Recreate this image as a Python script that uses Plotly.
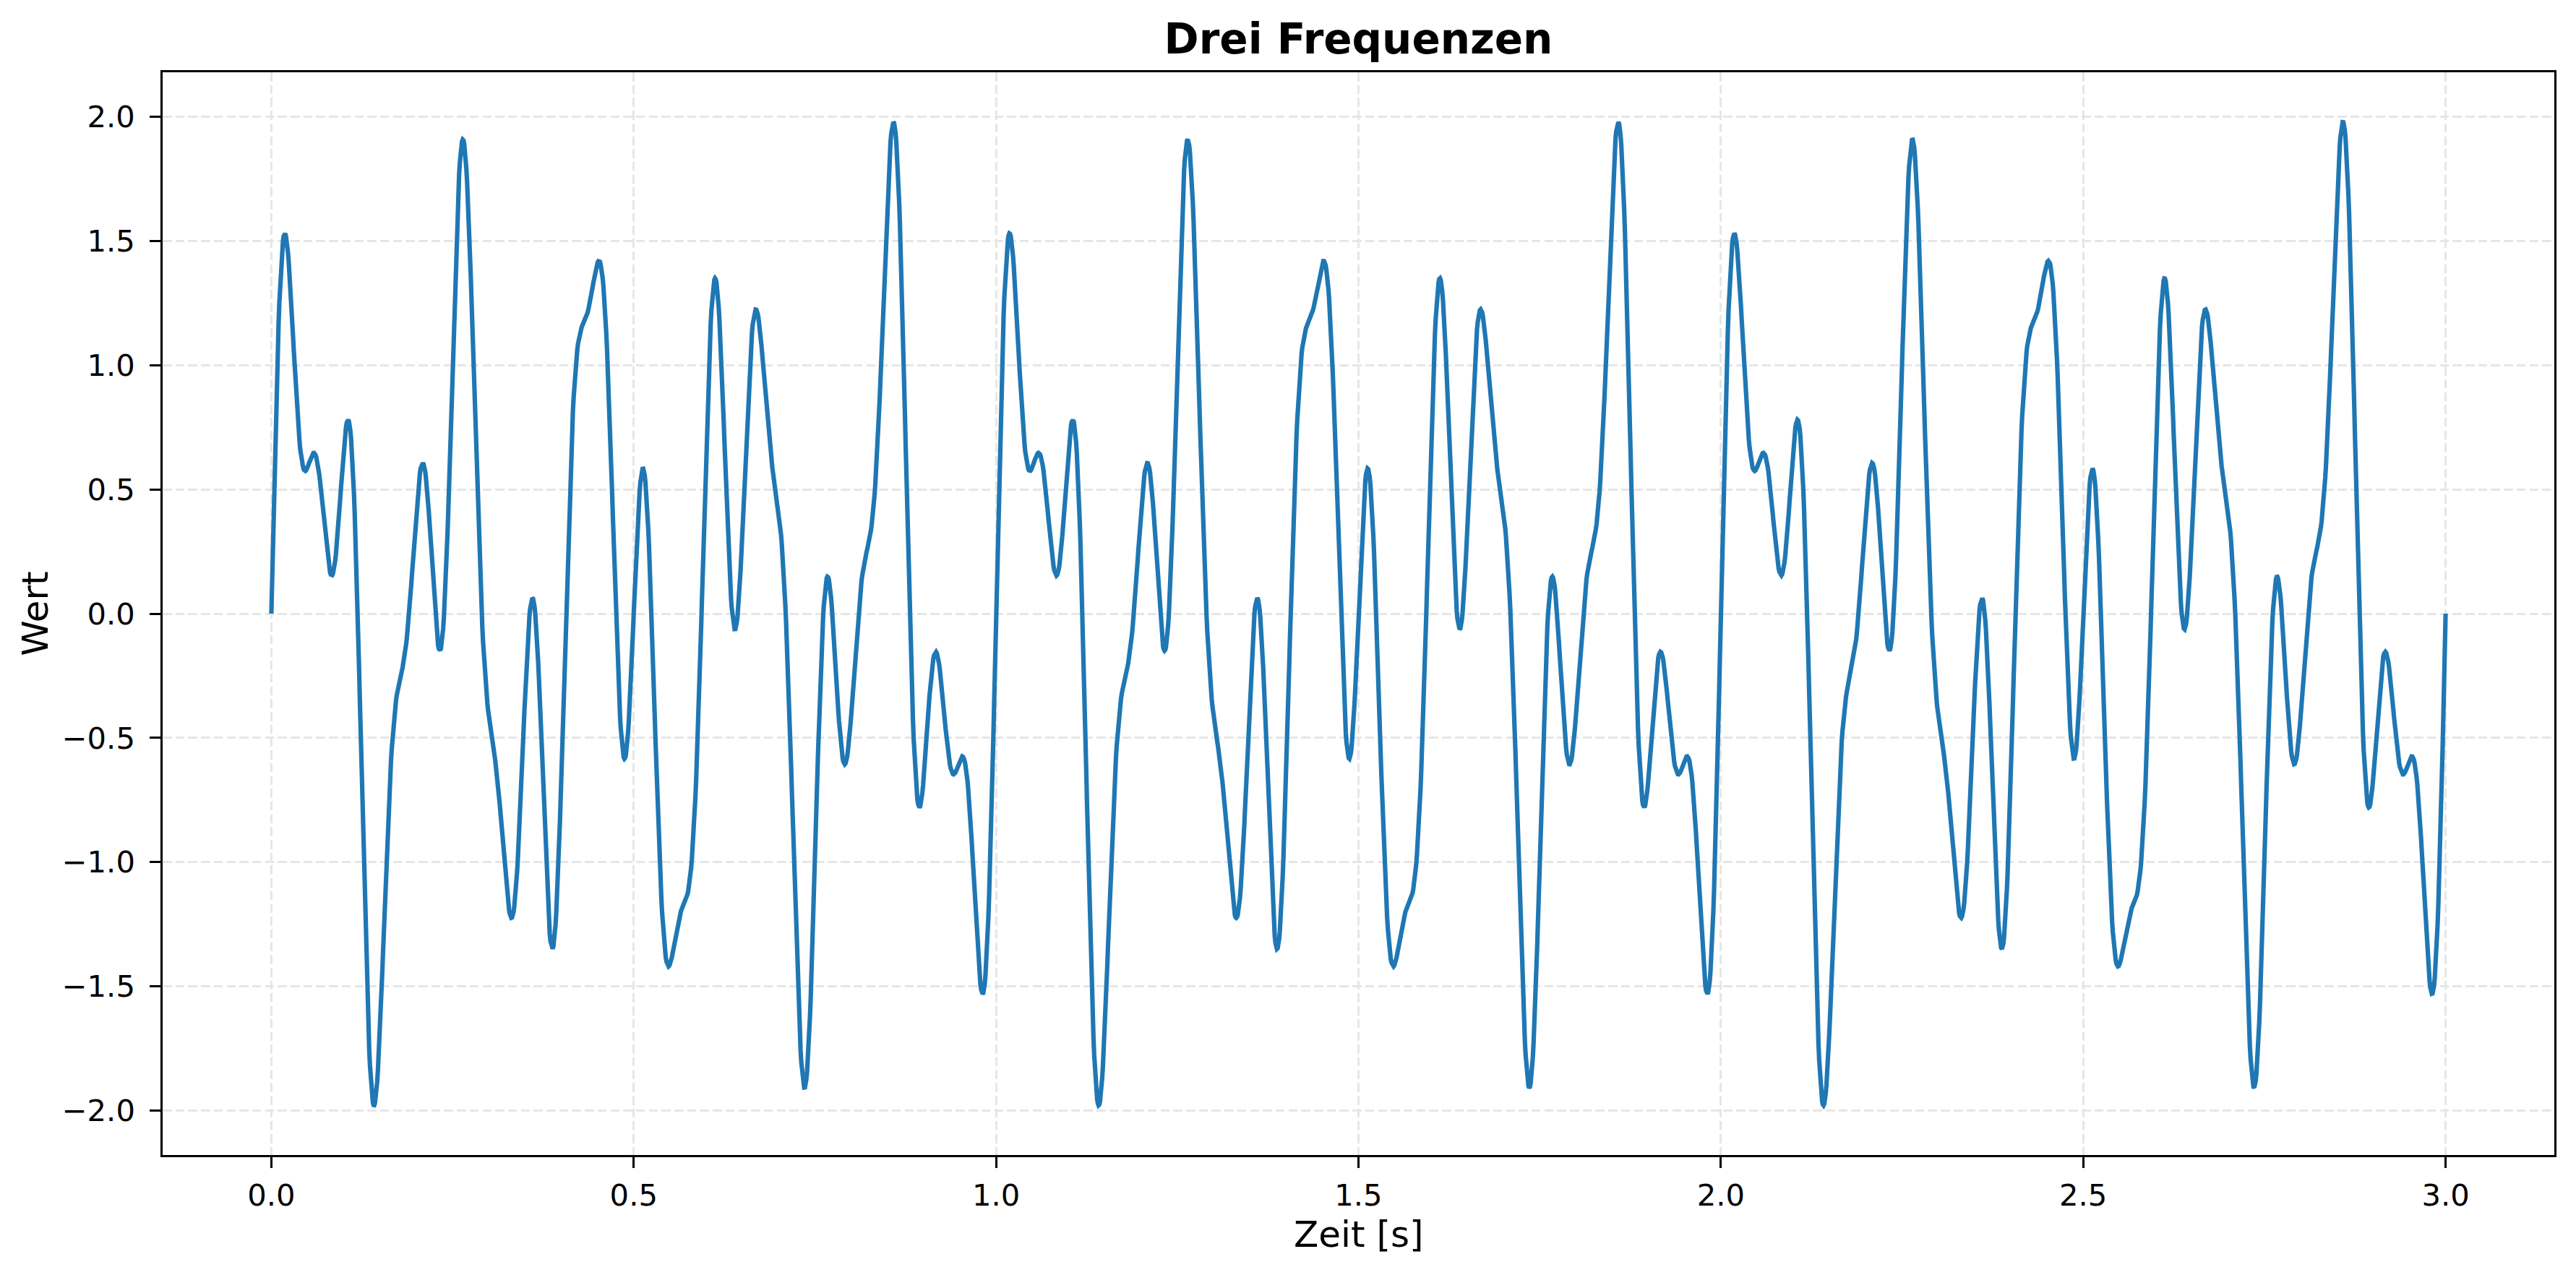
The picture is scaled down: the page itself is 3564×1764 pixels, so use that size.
import numpy as np
import plotly.graph_objects as go

# Drei Sinus-Anteile
frequenzen_hz = [5, 12, 20]
amplituden = [1.0, 0.7, 0.4]
dauer_s = 3.0
n_punkte = 3000

x_ticks = [0.0, 0.5, 1.0, 1.5, 2.0, 2.5, 3.0]
x_ticktext = ["0.0", "0.5", "1.0", "1.5", "2.0", "2.5", "3.0"]
y_ticks = [-2.0, -1.5, -1.0, -0.5, 0.0, 0.5, 1.0, 1.5, 2.0]
y_ticktext = ["\u22122.0", "\u22121.5", "\u22121.0", "\u22120.5", "0.0", "0.5", "1.0", "1.5", "2.0"]

t = np.linspace(0, dauer_s, n_punkte)
signal = np.zeros_like(t)
for f, a in zip(frequenzen_hz, amplituden):
    signal += a * np.sin(2 * np.pi * f * t)

W, H = 3564, 1764
FONT = "DejaVu Sans"

fig = go.Figure()
fig.add_trace(go.Scatter(
    x=t, y=signal, mode="lines",
    line=dict(color="#1f77b4", width=6.2),
    showlegend=False,
))

achse = dict(
    showline=True, linecolor="black", linewidth=3.3, mirror=True,
    ticks="outside", ticklen=14.6, tickwidth=3.3, tickcolor="black",
    showgrid=True, gridcolor="#e6e6e6", gridwidth=3.2, griddash="12.5px,5.2px",
    zeroline=False,
    tickfont=dict(family=FONT, size=41.7, color="black"),
)

fig.update_xaxes(
    **achse,
    range=[-0.15, 3.15],
    tickmode="array", tickvals=x_ticks, ticktext=x_ticktext,
    ticklabelstandoff=2,
)
fig.update_yaxes(
    **achse,
    range=[-2.178, 2.178],
    tickmode="array", tickvals=y_ticks, ticktext=y_ticktext,
    ticklabelstandoff=12,
    title=dict(text="Wert", font=dict(family=FONT, size=50, color="black"), standoff=4),
)

# x-Achsentitel als Annotation, damit die Lage genau stimmt
fig.add_annotation(
    text="Zeit [s]", showarrow=False,
    xref="paper", x=0.5, xanchor="center",
    yref="paper", y=(1598 - 1708) / 1498, yanchor="middle",
    font=dict(family=FONT, size=50, color="black"),
)

fig.update_layout(
    width=W, height=H,
    margin=dict(l=225, r=30, t=100, b=166, autoexpand=False),
    paper_bgcolor="white", plot_bgcolor="white",
    title=dict(
        text="<b>Drei Frequenzen</b>",
        font=dict(family=FONT, size=58, color="black"),
        x=0.5, xref="paper", xanchor="center",
        y=1 - 54 / H, yref="container", yanchor="middle",
    ),
)

fig.write_html(
    "out.html",
    config={"displayModeBar": False},
    post_script="document.body.style.margin='0';",
)
